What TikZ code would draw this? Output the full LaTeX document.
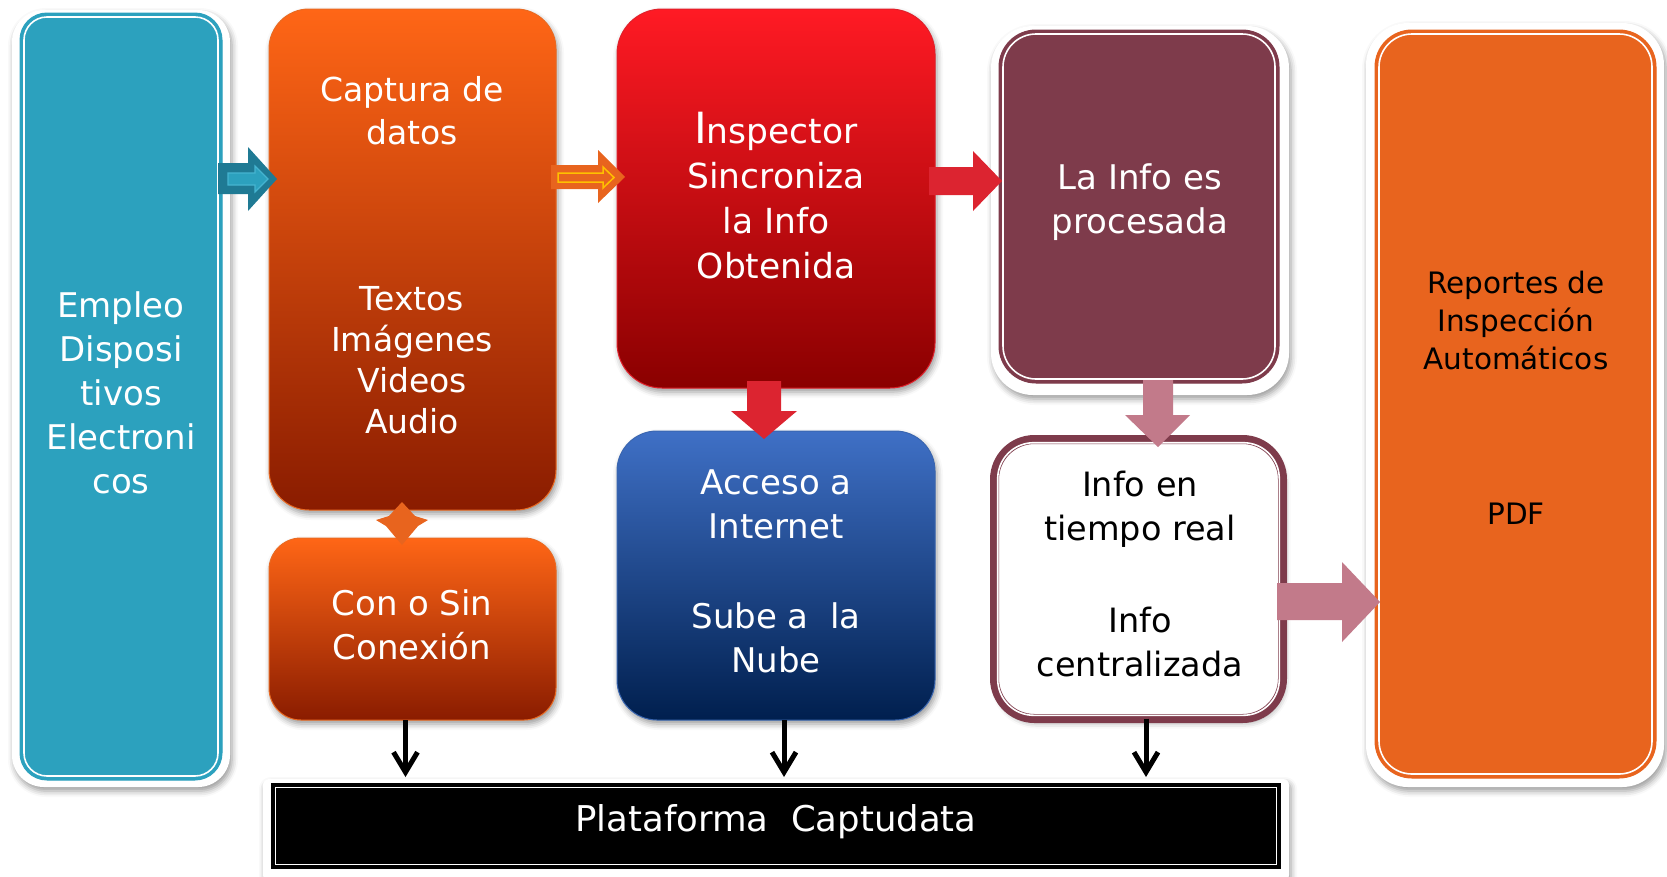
\documentclass[tikz,border=0pt]{standalone}
\usepackage{fontspec}
\setmainfont{DejaVu Sans}
\usetikzlibrary{shadows.blur,arrows.meta,calc}
\definecolor{cblue}{HTML}{2CA1BE}
\definecolor{cteal}{HTML}{1F7A94}
\definecolor{cteall}{HTML}{45B4D0}
\definecolor{corTop}{HTML}{FF6616}
\definecolor{corBot}{HTML}{8A1C00}
\definecolor{corLine}{HTML}{E96A22}
\definecolor{credTop}{HTML}{FF1A24}
\definecolor{credBot}{HTML}{8A0000}
\definecolor{credLine}{HTML}{E0202A}
\definecolor{cmaroon}{HTML}{7E3B4B}
\definecolor{cnavyTop}{HTML}{3F70C6}
\definecolor{cnavyBot}{HTML}{001F4E}
\definecolor{cnavyLine}{HTML}{3A66B0}
\definecolor{cpink}{HTML}{C27A8A}
\definecolor{carrred}{HTML}{DC2430}
\definecolor{corange}{HTML}{E8641E}
\definecolor{cyel}{HTML}{FFC000}
\begin{document}
\begin{tikzpicture}[x=1pt,y=-1pt,
  every node/.style={inner sep=0pt, outer sep=0pt},
  shadowed/.style={blur shadow={shadow xshift=2pt,shadow yshift=-4pt,shadow blur radius=6pt,shadow opacity=40}},
  wframe/.style={fill=white, shadowed},
  wtext/.style={text=white, align=center, font=\fontsize{33}{43}\selectfont},
  btext/.style={text=black, align=center, font=\fontsize{33.5}{44}\selectfont},
  rtext/.style={text=black, align=center, font=\fontsize{29.5}{38}\selectfont},
  innerline/.style={draw=white, line width=1.6pt},
  blk/.style={line width=5pt, -{Straight Barb[length=20pt,width=24pt,line width=5pt]}}
]
\useasboundingbox (0,0) rectangle (1667,876);

% ---------- Empleo (blue) ----------
\node[wframe, rounded corners=32pt, minimum width=218, minimum height=777] (empframe) at (121,398.5) {};
\node[fill=cblue, draw=cblue, line width=1pt, rounded corners=27pt, minimum width=202, minimum height=767] (emp) at (121,396.5) {};
\draw[innerline, rounded corners=23pt] ($(emp.north west)+(4,4)$) rectangle ($(emp.south east)+(-4,-4)$);
\node[wtext, font=\fontsize{34}{44}\selectfont] (emptxt) at (121,393) {Empleo\\Disposi\\tivos\\Electroni\\cos};

% ---------- Captura (orange) ----------
\node[shadowed, top color=corTop, bottom color=corBot, draw=corLine, line width=1pt, rounded corners=40pt, minimum width=287, minimum height=501] (cap) at (412.5,259.5) {};
\node[wtext] (captxt) at (412,111) {Captura de\\datos};
\node[wtext, font=\fontsize{33}{41}\selectfont] (medtxt) at (412,360) {Textos\\Imágenes\\Videos\\Audio};

% ---------- Con o Sin ----------
\node[shadowed, top color=corTop, bottom color=corBot, draw=corLine, line width=1pt, rounded corners=32pt, minimum width=287, minimum height=182] (con) at (412.5,629) {};
\node[wtext, font=\fontsize{34}{44}\selectfont] (contxt) at (412,625) {Con o Sin\\Conexión};

% diamond connector
\fill[corange] (402,502) -- (415,516) -- (428,520) -- (418,526) -- (402,545) -- (386,526) -- (376,520) -- (389,516) -- cycle;
\coordinate (dia) at (402,523);

% ---------- Inspector (red) ----------
\node[shadowed, top color=credTop, bottom color=credBot, draw=credLine, line width=1pt, rounded corners=45pt, minimum width=318, minimum height=379] (insp) at (776,198.5) {};
\node[wtext, font=\fontsize{34.5}{45}\selectfont] (insptxt) at (776,196) {{\fontsize{43}{45}\selectfont I}nspector\\Sincroniza\\la Info\\Obtenida};

% ---------- Acceso (navy) ----------
\node[shadowed, top color=cnavyTop, bottom color=cnavyBot, draw=cnavyLine, line width=1pt, rounded corners=40pt, minimum width=318, minimum height=289] (acc) at (776,575.5) {};
\node[wtext, font=\fontsize{34}{44}\selectfont] (acctxt) at (776,504) {Acceso a\\Internet};
\node[wtext, font=\fontsize{34}{44}\selectfont] (nubetxt) at (776,638) {Sube a\ \ la\\Nube};

% ---------- La Info es procesada (maroon) ----------
\node[wframe, rounded corners=42pt, minimum width=298, minimum height=369] (procframe) at (1140,210.5) {};
\node[fill=cmaroon, draw=cmaroon, line width=1pt, rounded corners=37pt, minimum width=280, minimum height=353] (proc) at (1139,206.5) {};
\draw[innerline, rounded corners=33pt] ($(proc.north west)+(4,4)$) rectangle ($(proc.south east)+(-4,-4)$);
\node[wtext, font=\fontsize{34}{44}\selectfont] (proctxt) at (1140,202) {La Info es\\procesada};

% ---------- Info en tiempo real ----------
\node[shadowed, fill=white, draw=cmaroon, line width=9pt, rounded corners=40pt, minimum width=288, minimum height=279] (real) at (1138.5,579) {};
\draw[white, line width=1.6pt, rounded corners=36pt] ($(real.north west)+(3.2,3.2)$) rectangle ($(real.south east)+(-3.2,-3.2)$);
\node[btext] (realtxt) at (1140,509) {Info en\\tiempo real};
\node[btext] (centtxt) at (1140,642) {Info\\centralizada};

% ---------- Reportes (orange right) ----------
\node[wframe, rounded corners=42pt, minimum width=298, minimum height=764] (repframe) at (1515,405) {};
\node[fill=corange, draw=corange, line width=1pt, rounded corners=37pt, minimum width=281, minimum height=748] (rep) at (1515.5,404) {};
\draw[innerline, rounded corners=33pt] ($(rep.north west)+(4,4)$) rectangle ($(rep.south east)+(-4,-4)$);
\node[rtext] (reptxt) at (1516,320) {Reportes de\\Inspección\\Automáticos};
\node[rtext] (pdftxt) at (1516,514) {PDF};

% ---------- Plataforma ----------
\node[wframe, rounded corners=6pt, minimum width=1026, minimum height=102] (platframe) at (776,830) {};
\node[fill=black, minimum width=1010, minimum height=86] (plat) at (776,826) {};
\draw[white, line width=1.5pt] ($(plat.north west)+(4.5,4.5)$) rectangle ($(plat.south east)+(-4.5,-4.5)$);
\node[wtext, font=\fontsize{35.5}{40}\selectfont] (plattxt) at (776,822) {Plataforma\ \ Captudata};

% ---------- block arrows ----------
\fill[cteal] (218,163) -- (248,163) -- (248,147) -- (277,179) -- (248,211) -- (248,194) -- (218,194) -- cycle;
\filldraw[fill=cblue, draw=cteall, line width=1.2pt] (228,173) -- (255,173) -- (255,166) -- (268,179) -- (255,192) -- (255,185) -- (228,185) -- cycle;
\fill[corange] (551,165) -- (598,165) -- (598,150) -- (625,177) -- (598,203) -- (598,189) -- (551,189) -- cycle;
\draw[cyel, line width=1.5pt] (558,173) -- (603,173) -- (603,167) -- (614,177.5) -- (603,188) -- (603,182) -- (558,182) -- cycle;
\fill[carrred] (929,167) -- (973,167) -- (973,151) -- (1002,181) -- (973,211) -- (973,195) -- (929,195) -- cycle;
\fill[carrred] (747,381) -- (781,381) -- (781,411) -- (797,411) -- (764,439) -- (731,411) -- (747,411) -- cycle;
\fill[cpink] (1143,380) -- (1173,380) -- (1173,415) -- (1190,415) -- (1158,447) -- (1125,415) -- (1143,415) -- cycle;
\fill[cpink] (1277,583) -- (1342,583) -- (1342,562) -- (1380,602) -- (1342,642) -- (1342,620) -- (1277,620) -- cycle;

% ---------- black arrows ----------
\draw[blk] ([xshift=-7pt]con.south) -- ([xshift=-7pt,yshift=2pt]con.south |- platframe.north);
\draw[blk] ([xshift=8pt]acc.south) -- ([xshift=8pt,yshift=2pt]acc.south |- platframe.north);
\draw[blk] ([xshift=7.5pt]real.south) -- ([xshift=7.5pt,yshift=2pt]real.south |- platframe.north);
\end{tikzpicture}
\end{document}
